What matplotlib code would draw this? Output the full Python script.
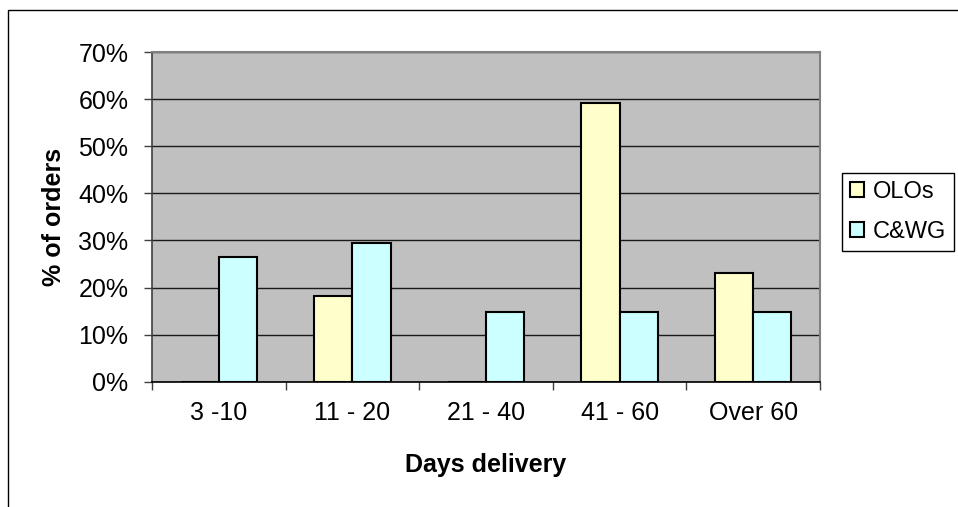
import matplotlib
matplotlib.use("Agg")
import matplotlib.pyplot as plt
import matplotlib.patches as patches
import numpy as np

plt.rcParams['font.family'] = ['Liberation Sans', 'DejaVu Sans']

categories = ['3 -10', '11 - 20', '21 - 40', '41 - 60', 'Over 60']
olos = [0.0, 18.2, 0.0, 59.2, 23.0]
cwg = [26.4, 29.4, 14.8, 14.8, 14.8]
yticks = [0, 10, 20, 30, 40, 50, 60, 70]

fig = plt.figure(figsize=(9.58, 5.07), dpi=100)
ax = fig.add_axes([152/958, 1 - 381.7/507, 668/958, 329.7/507])
ax.set_facecolor('#C0C0C0')

X = np.arange(len(categories))
w = 0.286
ax.bar(X - w/2, olos, width=w, color='#FFFFCC', edgecolor='black', linewidth=1.5,
       label='OLOs', zorder=3)
ax.bar(X + w/2, cwg, width=w, color='#CCFFFF', edgecolor='black', linewidth=1.5,
       label='C&WG', zorder=3)

ax.set_xlim(-0.5, len(categories) - 0.5)
ax.set_ylim(0, 70)
ax.set_yticks(yticks)
ax.set_yticklabels(['%d%%' % v for v in yticks])
ax.yaxis.grid(True, color='#1a1a1a', linewidth=1.0, zorder=1)
ax.set_axisbelow(True)

# category labels in the middle, tick marks at the boundaries
ax.set_xticks(X)
ax.set_xticklabels(categories)
ax.set_xticks(np.arange(-0.5, len(categories)), minor=True)
ax.tick_params(axis='x', which='major', length=0, pad=14, labelsize=18)
ax.tick_params(axis='x', which='minor', length=6, width=1, color='#404040')
ax.tick_params(axis='y', length=6, width=1, color='#404040', pad=11, labelsize=18)

for s in ['top', 'right']:
    ax.spines[s].set_color('#808080')
    ax.spines[s].set_linewidth(1.5)
ax.spines['left'].set_color('#404040')
ax.spines['left'].set_linewidth(1.2)
ax.spines['bottom'].set_color('black')
ax.spines['bottom'].set_linewidth(1.2)

ax.set_xlabel('Days delivery', fontsize=18, fontweight='bold', va='center')
ax.xaxis.set_label_coords(0.5, -0.2527)
ax.set_ylabel('% of orders', fontsize=18, fontweight='bold', va='center')
ax.yaxis.set_label_coords(-0.1467, 0.5)

leg = ax.legend(loc='upper left', bbox_to_anchor=(842/958, 1 - 173/507),
                bbox_transform=fig.transFigure, borderaxespad=0,
                fontsize=17, handlelength=0.6, handleheight=0.6,
                handletextpad=0.35, labelspacing=0.75, borderpad=0.35,
                fancybox=False, framealpha=1, edgecolor='black')
leg.get_frame().set_linewidth(1.0)

# chart area border
fig.patches.append(patches.Rectangle((7.7/958, -0.5), 2, 1.5 - 10/507,
                                     transform=fig.transFigure, fill=False,
                                     edgecolor='black', linewidth=1.0))

fig.savefig('out.png', dpi=100)
